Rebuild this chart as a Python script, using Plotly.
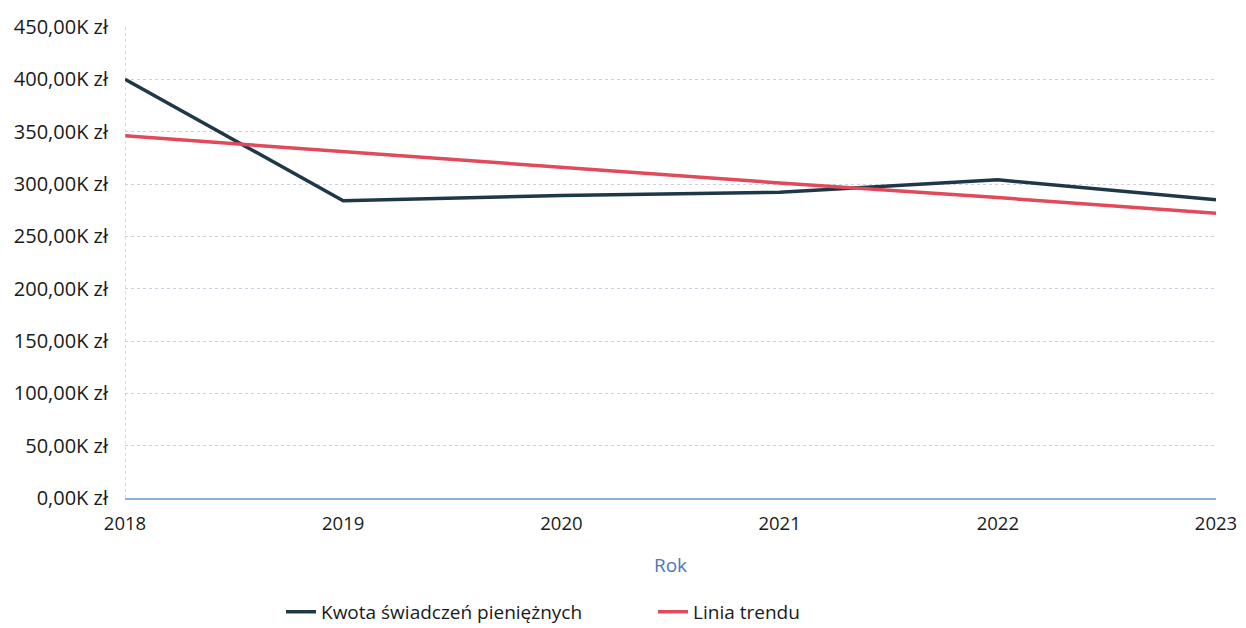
import plotly.graph_objects as go

years = [2018, 2019, 2020, 2021, 2022, 2023]
kwota = [400000, 284000, 289000, 292000, 304000, 285000]
trend = [346000, 331000, 316000, 301000, 287000, 272000]
y_ticks = [0, 50000, 100000, 150000, 200000, 250000, 300000, 350000, 400000, 450000]
y_labels = ["0,00K zł", "50,00K zł", "100,00K zł", "150,00K zł", "200,00K zł",
            "250,00K zł", "300,00K zł", "350,00K zł", "400,00K zł", "450,00K zł"]

fig = go.Figure()
fig.add_trace(go.Scatter(x=years, y=kwota, mode="lines", name="Kwota świadczeń pieniężnych",
                         line=dict(color="#1e3848", width=3.5)))
fig.add_trace(go.Scatter(x=years, y=trend, mode="lines", name="Linia trendu",
                         line=dict(color="#e04a5a", width=3.5)))

fig.update_layout(
    width=1230, height=620,
    margin=dict(l=117, r=22, t=19, b=130, autoexpand=False),
    paper_bgcolor="white", plot_bgcolor="white",
    font=dict(family="Open Sans, Noto Sans, sans-serif", color="#1a1a1a", size=19),
    showlegend=True,
    legend=dict(orientation="h", x=0.143, xanchor="left", yref="container", y=0.026,
                yanchor="middle", font=dict(size=19), itemwidth=30,
                entrywidth=327, entrywidthmode="pixels"),
    xaxis=dict(
        range=[2018, 2023], tickvals=years, ticktext=[str(y) for y in years],
        showgrid=False, showline=True, linecolor="#8fb0dc", linewidth=1.5,
        ticks="", tickfont=dict(size=18.5), ticklabelstandoff=8, automargin=False,
        title=dict(text="Rok", font=dict(color="#4a78c0", size=19), standoff=25),
        zeroline=False,
    ),
    yaxis=dict(
        range=[0, 450000], tickvals=y_ticks, ticktext=y_labels,
        showgrid=True, gridcolor="#c9d3e3", griddash="dot", gridwidth=1,
        showline=False, zeroline=False, ticks="", tickfont=dict(size=20),
        ticklabelstandoff=16, automargin=False,
    ),
)
fig.add_shape(type="line", xref="x", yref="paper", x0=2018, x1=2018, y0=0, y1=1,
              line=dict(color="#a9c2e6", width=1, dash="dot"))

fig.write_html("out.html")
